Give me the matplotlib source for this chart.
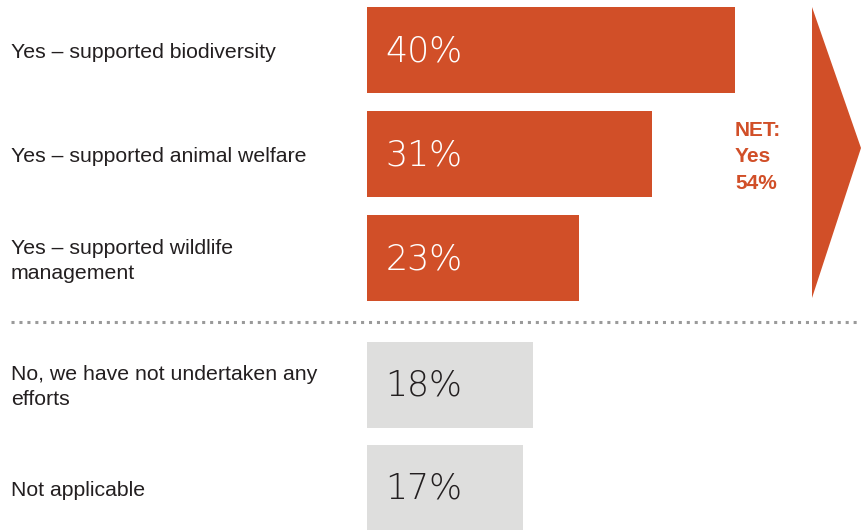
import matplotlib
matplotlib.use("Agg")
import matplotlib.pyplot as plt
from matplotlib.patches import Polygon
import matplotlib.transforms as mtransforms

categories = [
    "Yes – supported biodiversity",
    "Yes – supported animal welfare",
    "Yes – supported wildlife\nmanagement",
    "No, we have not undertaken any\nefforts",
    "Not applicable",
]
values = [40, 31, 23, 18, 17]
value_labels = ["40%", "31%", "23%", "18%", "17%"]
is_yes = [True, True, True, False, False]
net_label = "NET:\nYes\n54%"

ORANGE = "#D14F28"
GREY = "#DEDEDD"
TEXT = "#231F20"

positions = [0, 1, 2, 3.22, 4.21]

W, H = 861, 530
fig = plt.figure(figsize=(W / 100, H / 100), dpi=100)
ax = fig.add_axes([0, 0, 1, 1])
px_per_unit = 9.2
x0 = 367
ax.set_xlim(-x0 / px_per_unit, (W - x0) / px_per_unit)
ax.set_ylim((H - 50) / 104, -50 / 104)
ax.axis("off")

colors = [ORANGE if y else GREY for y in is_yes]
ax.barh(positions, values, height=0.82, color=colors, left=0)

blend = mtransforms.blended_transform_factory(ax.transAxes, ax.transData)
for pos, cat, val, lab, yes in zip(positions, categories, values, value_labels, is_yes):
    ax.text(11 / W, pos + 0.025, cat, transform=blend, ha="left", va="center",
            fontsize=15.3, color=TEXT, family="Liberation Sans", linespacing=1.4)
    ax.text(2.0, pos + 0.01, lab, ha="left", va="center", fontsize=25,
            color="white" if yes else TEXT, family="DejaVu Sans", fontweight="light")

sep_y = (321.5 - 50) / 104
ax.plot([-x0 / px_per_unit + 11 / px_per_unit, -x0 / px_per_unit + 858 / px_per_unit], [sep_y, sep_y],
        color="#9a9a9a", linestyle=(0, (1, 1.6)), linewidth=2.2)

# NET arrow
ax_l = (812 - x0) / px_per_unit
ax_r = (861 - x0) / px_per_unit
top = (7 - 50) / 104
bot = (298 - 50) / 104
tip = (148 - 50) / 104
ax.add_patch(Polygon([(ax_l, top), (ax_r, tip), (ax_l, bot)], closed=True,
                     facecolor=ORANGE, edgecolor="none"))
ax.text((735 - x0) / px_per_unit, (157 - 50) / 104, net_label, ha="left", va="center",
        fontsize=15, fontweight="bold", color=ORANGE, family="Liberation Sans", linespacing=1.5)

fig.savefig("out.png", dpi=100)
